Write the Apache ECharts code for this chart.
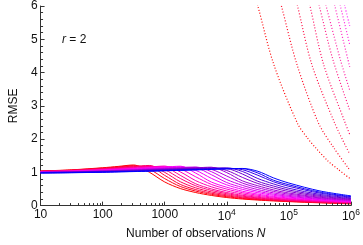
<!DOCTYPE html>
<html>
<head>
<meta charset="utf-8">
<script src="https://cdn.jsdelivr.net/npm/echarts@6/dist/echarts.min.js"></script>
<style>
html,body{margin:0;padding:0;background:#fff;}
#chart{width:363px;height:245px;}
</style>
</head>
<body>
<div id="chart"></div>
<script>
// ---- data ----
const obsN = [10, 31.62, 100, 177.8, 316.2, 562.3, 1000, 1778, 3162, 5623, 10000, 17783, 31623, 56234, 100000, 316228, 1000000];

// solid curves, red (first) -> blue (last), RMSE at each obsN
const solidRMSE = [
  [1.04, 1.075, 1.138, 1.178, 1.221, 1.006, 0.71, 0.514, 0.392, 0.306, 0.242, 0.198, 0.166, 0.14, 0.119, 0.083, 0.053],
  [1.037, 1.069, 1.127, 1.163, 1.202, 1.094, 0.811, 0.576, 0.436, 0.339, 0.268, 0.216, 0.18, 0.152, 0.128, 0.091, 0.061],
  [1.034, 1.063, 1.116, 1.149, 1.185, 1.176, 0.909, 0.638, 0.48, 0.373, 0.294, 0.235, 0.194, 0.164, 0.139, 0.098, 0.068],
  [1.031, 1.058, 1.107, 1.137, 1.171, 1.207, 0.999, 0.718, 0.533, 0.412, 0.324, 0.257, 0.211, 0.177, 0.149, 0.107, 0.075],
  [1.027, 1.052, 1.097, 1.125, 1.156, 1.19, 1.08, 0.816, 0.595, 0.457, 0.358, 0.284, 0.23, 0.192, 0.162, 0.117, 0.083],
  [1.024, 1.047, 1.089, 1.115, 1.143, 1.174, 1.154, 0.91, 0.655, 0.502, 0.392, 0.311, 0.25, 0.207, 0.174, 0.127, 0.09],
  [1.021, 1.042, 1.08, 1.104, 1.13, 1.158, 1.189, 1.014, 0.749, 0.566, 0.44, 0.348, 0.278, 0.227, 0.191, 0.138, 0.099],
  [1.018, 1.037, 1.073, 1.094, 1.118, 1.144, 1.172, 1.103, 0.864, 0.638, 0.496, 0.39, 0.311, 0.251, 0.209, 0.15, 0.108],
  [1.015, 1.033, 1.065, 1.085, 1.107, 1.131, 1.157, 1.184, 0.975, 0.709, 0.552, 0.433, 0.345, 0.276, 0.228, 0.162, 0.118],
  [1.012, 1.028, 1.058, 1.076, 1.097, 1.119, 1.142, 1.167, 1.058, 0.821, 0.623, 0.489, 0.388, 0.31, 0.253, 0.178, 0.13],
  [1.008, 1.023, 1.051, 1.068, 1.087, 1.107, 1.129, 1.152, 1.134, 0.93, 0.693, 0.545, 0.431, 0.344, 0.278, 0.194, 0.142],
  [1.005, 1.019, 1.044, 1.06, 1.078, 1.096, 1.117, 1.138, 1.161, 1.021, 0.782, 0.609, 0.481, 0.383, 0.308, 0.212, 0.155],
  [1.002, 1.015, 1.039, 1.053, 1.069, 1.087, 1.106, 1.126, 1.147, 1.091, 0.888, 0.678, 0.538, 0.428, 0.343, 0.231, 0.167],
  [0.999, 1.011, 1.033, 1.047, 1.062, 1.078, 1.096, 1.114, 1.134, 1.155, 0.991, 0.745, 0.596, 0.473, 0.378, 0.251, 0.179],
  [0.996, 1.007, 1.028, 1.04, 1.054, 1.07, 1.086, 1.103, 1.122, 1.141, 1.056, 0.849, 0.664, 0.531, 0.423, 0.278, 0.196],
  [0.993, 1.004, 1.023, 1.034, 1.047, 1.062, 1.077, 1.093, 1.11, 1.128, 1.114, 0.95, 0.731, 0.589, 0.469, 0.306, 0.212],
  [0.989, 0.999, 1.017, 1.028, 1.04, 1.053, 1.068, 1.083, 1.099, 1.116, 1.133, 1.027, 0.814, 0.652, 0.521, 0.338, 0.231],
  [0.986, 0.995, 1.012, 1.023, 1.034, 1.046, 1.06, 1.074, 1.089, 1.105, 1.122, 1.081, 0.912, 0.718, 0.581, 0.375, 0.253],
  [0.983, 0.992, 1.008, 1.018, 1.028, 1.04, 1.053, 1.067, 1.081, 1.096, 1.112, 1.112, 0.98, 0.765, 0.626, 0.404, 0.27],
  [0.98, 0.988, 1.003, 1.013, 1.023, 1.034, 1.046, 1.059, 1.072, 1.087, 1.101, 1.117, 1.032, 0.834, 0.678, 0.44, 0.292]
];

// dotted curves, red (first) -> magenta (last)
const dottedN = [
  [27500, 31623, 57150, 137700, 199500, 269200, 426600, 631000, 955000],
  [67600, 75860, 134900, 302000, 537000, 955000],
  [125900, 138000, 234400, 549500, 955000],
  [199500, 218800, 363100, 812800, 955000],
  [281800, 309000, 512900, 955000],
  [363100, 398100, 676100, 955000],
  [501200, 549500, 955000],
  [616600, 676100, 955000],
  [724400, 794300, 955000]
];
const dottedRMSE = [
  [6.4, 6.0, 4.24, 2.47, 2.03, 1.74, 1.34, 1.08, 0.82],
  [6.35, 6.0, 4.24, 2.47, 1.72, 1.07],
  [6.3, 6.0, 4.24, 2.47, 1.55],
  [6.32, 6.0, 4.24, 2.47, 2.14],
  [6.3, 6.0, 4.38, 2.87],
  [6.3, 6.0, 4.38, 3.47],
  [6.3, 6.0, 4.17],
  [6.3, 6.0, 4.84],
  [6.3, 6.0, 5.4]
];

const xTickN = [10, 100, 1000, 10000, 100000, 1000000];
const xTickText = ['10', '100', '1000', '10|4', '10|5', '10|6'];
const yTicks = [0, 1, 2, 3, 4, 5, 6];

// ---- styles ----
const FONT = '"Liberation Sans", Arial, sans-serif';
const FS = 12;
const AX = '#333';
const TXT = '#111';
function lerp(a, b, t) { return a.map((v, i) => Math.round(v + (b[i] - v) * t)); }
function solidColor(f) {
  const stops = [[0, [255, 0, 0]], [0.45, [255, 0, 255]], [0.75, [128, 0, 200]], [1, [0, 0, 255]]];
  for (let i = 1; i < stops.length; i++) {
    if (f <= stops[i][0]) {
      const t = (f - stops[i - 1][0]) / (stops[i][0] - stops[i - 1][0]);
      return 'rgb(' + lerp(stops[i - 1][1], stops[i][1], t).join(',') + ')';
    }
  }
  return 'rgb(0,0,255)';
}
function dottedColor(f) {
  return 'rgb(' + lerp([255, 0, 0], [255, 40, 255], f).join(',') + ')';
}

const minorTickN = [];
for (let d = 10; d < 1000000; d *= 10) {
  for (let m = 2; m <= 9; m++) minorTickN.push(d * m);
}

const series = [];
solidRMSE.forEach((ys, k) => {
  series.push({
    type: 'line',
    data: obsN.map((n, i) => [n, ys[i]]),
    showSymbol: false,
    symbol: 'none',
    smooth: 0.3,
    clip: true,
    silent: true,
    lineStyle: { color: solidColor(k / (solidRMSE.length - 1)), width: 1 },
    z: 2
  });
});
dottedN.forEach((ns, k) => {
  series.push({
    type: 'line',
    data: ns.map((n, i) => [n, dottedRMSE[k][i]]),
    showSymbol: false,
    symbol: 'none',
    smooth: 0.3,
    clip: true,
    silent: true,
    lineStyle: { color: dottedColor(k / (dottedN.length - 1)), width: 1.2, type: [1, 2] },
    z: 3
  });
});
// minor ticks on the log axis, placed via the axis scale
series.push({
  type: 'custom',
  silent: true,
  clip: false,
  data: minorTickN.map(n => [n, 0]),
  renderItem: function (params, api) {
    const p = api.coord([api.value(0), 0]);
    const x = Math.round(p[0]) + 0.5;
    return { type: 'line', shape: { x1: x, y1: p[1], x2: x, y2: p[1] - 2.5 }, style: { stroke: AX, lineWidth: 1 } };
  },
  z: 5
});

const chart = echarts.init(document.getElementById('chart'), null, { renderer: 'canvas' });
chart.setOption({
  animation: false,
  backgroundColor: '#fff',
  grid: { left: 27, right: 9, top: 5, bottom: 36, containLabel: false },
  xAxis: {
    type: 'log',
    logBase: 10,
    min: xTickN[0],
    max: xTickN[xTickN.length - 1],
    splitNumber: 5,
    name: 'Number of observations {i|N}',
    nameLocation: 'middle',
    nameGap: 12,
    nameTextStyle: {
      fontFamily: FONT, fontSize: FS, color: TXT,
      rich: { i: { fontFamily: FONT, fontSize: FS, fontStyle: 'italic', color: TXT } }
    },
    axisLine: { show: true, lineStyle: { color: AX, width: 1 } },
    axisTick: { show: true, inside: true, length: 4, lineStyle: { color: AX } },
    minorTick: { show: false },
    splitLine: { show: false },
    axisLabel: {
      margin: 3,
      fontFamily: FONT, fontSize: FS, color: TXT,
      formatter: function (v) {
        const idx = xTickN.findIndex(t => Math.abs(t - v) / t < 1e-6);
        if (idx < 0) return '';
        const t = xTickText[idx];
        if (t.indexOf('|') < 0) return t;
        const parts = t.split('|');
        return '{b|' + parts[0] + '}{s|' + parts[1] + '}';
      },
      rich: {
        b: { fontFamily: FONT, fontSize: FS, color: TXT },
        s: { fontFamily: FONT, fontSize: 8.5, color: TXT, padding: [0, 0, 8, 0] }
      }
    }
  },
  yAxis: {
    type: 'value',
    min: yTicks[0],
    max: yTicks[yTicks.length - 1],
    interval: 1,
    name: 'RMSE',
    nameLocation: 'middle',
    nameGap: 14,
    nameRotate: 90,
    nameTextStyle: { fontFamily: FONT, fontSize: FS, color: TXT },
    axisLine: { show: true, lineStyle: { color: AX, width: 1 } },
    axisTick: { show: true, inside: true, length: 4, lineStyle: { color: AX } },
    minorTick: { show: true, splitNumber: 5, length: 2.5, lineStyle: { color: AX } },
    splitLine: { show: false },
    axisLabel: { margin: 3, fontFamily: FONT, fontSize: FS, color: TXT }
  },
  graphic: [{
    type: 'text',
    left: 62,
    top: 34,
    style: {
      text: '{i|r} = 2',
      rich: { i: { fontFamily: FONT, fontSize: FS, fontStyle: 'italic', fill: TXT } },
      font: FS + 'px ' + FONT,
      fill: TXT
    }
  }],
  series: series
});
</script>
</body>
</html>
